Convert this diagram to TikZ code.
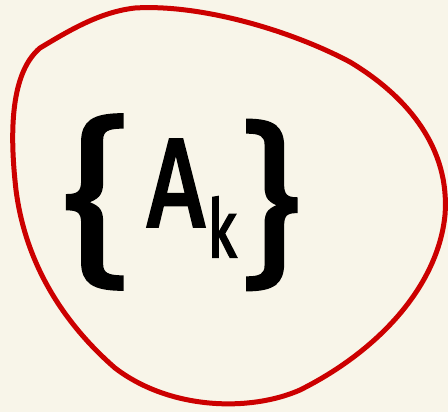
\documentclass[tikz,border=0pt]{standalone}
\usepackage{fontspec}
\setmainfont{Fira Sans}
\newfontfamily\penfont{Fira Sans}[FakeBold=1.5]
\newfontfamily\letterfont{Fira Sans}[FakeBold=3]
\definecolor{paper}{HTML}{F8F5E9}
\definecolor{ink}{HTML}{CC0000}
\tikzset{
  loop/.style={draw=ink, line width=5pt, line cap=round, line join=round},
  glyph/.style={inner sep=0pt, text=black, anchor=center, font=\penfont},
  letter/.style={glyph, font=\letterfont}
}
\begin{document}
\begin{tikzpicture}[x=1pt,y=-1pt]
\fill[paper] (0,0) rectangle (448,412);
\useasboundingbox (0,0) rectangle (448,412);
\draw[loop] (40,48) .. controls (70,30) and (100,12) .. (135,8)
  .. controls (200,4) and (290,30) .. (350,62)
  .. controls (410,98) and (450,150) .. (445,215)
  .. controls (438,285) and (380,350) .. (300,390)
  .. controls (250,412) and (170,410) .. (115,368)
  .. controls (60,320) and (25,260) .. (16,190)
  .. controls (8,120) and (14,70) .. (40,48);
\node[glyph] (lb) at (97,202) {\fontsize{180}{180}\selectfont\scalebox{1.2}[1]{\{}};
\node[letter] (a) at (176,183) {\fontsize{125}{125}\selectfont\scalebox{0.8}[1]{A}};
\node[letter] (k) at (222,227) {\fontsize{80}{80}\selectfont\scalebox{0.7}[1]{k}};
\node[glyph] (rb) at (270,205) {\fontsize{175}{175}\selectfont\scalebox{1.1}[1]{\}}};
\end{tikzpicture}
\end{document}
